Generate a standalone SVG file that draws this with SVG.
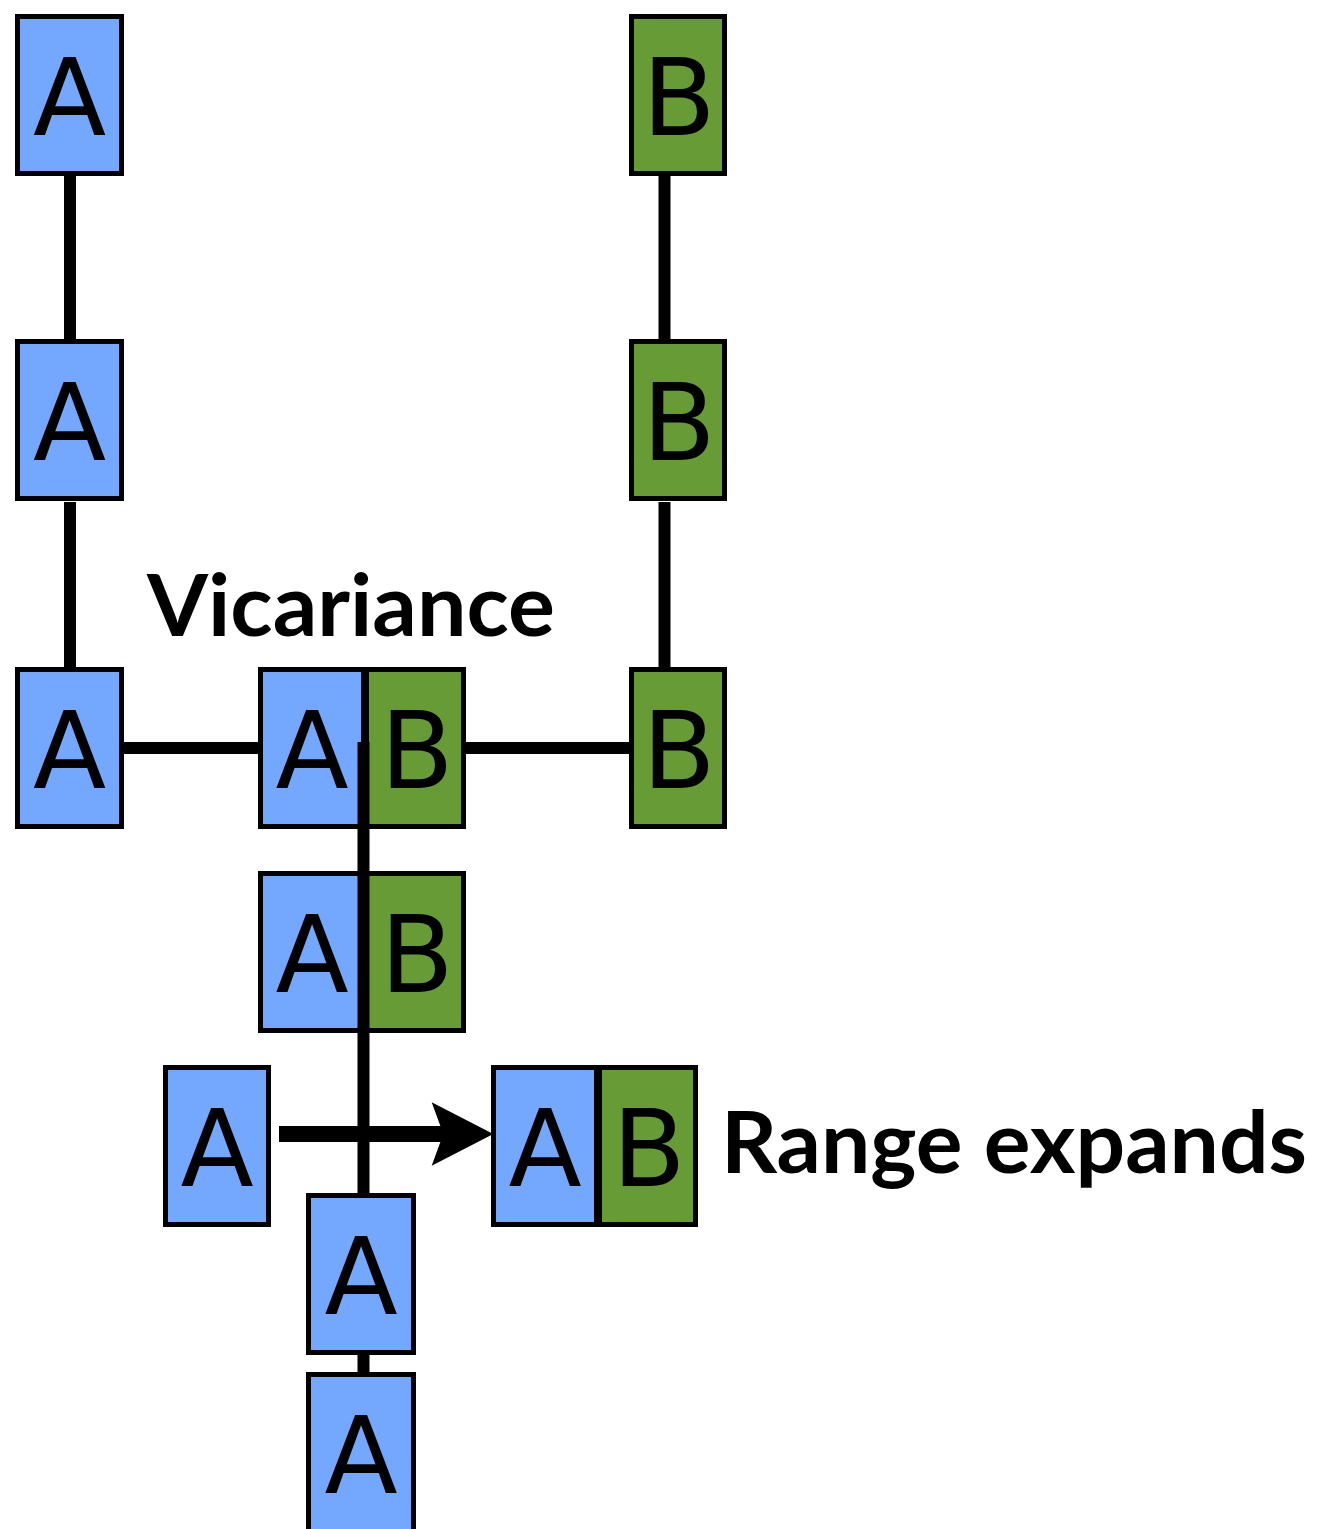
<svg xmlns="http://www.w3.org/2000/svg" width="1320" height="1529" viewBox="0 0 1320 1529">
<style>
.a{fill:#74a8fe;stroke:#000;stroke-width:5}
.b{fill:#669b36;stroke:#000;stroke-width:5}
.t{font-family:"DejaVu Sans",sans-serif;font-size:107px;text-anchor:middle;fill:#000}
.c{stroke:#000;stroke-width:12;fill:none}
.lbl{font-family:Lato,"Open Sans",sans-serif;font-weight:bold;font-size:86px;fill:#000}
</style>
<rect width="1320" height="1529" fill="#fff"/>
<g id="A1"><rect class="a" x="17.5" y="16.5" width="104" height="157"/><text class="t" x="69.5" y="135">A</text></g>
<g id="A2"><rect class="a" x="17.5" y="341.5" width="104" height="157"/><text class="t" x="69.5" y="460">A</text></g>
<g id="A3"><rect class="a" x="17.5" y="669.5" width="104" height="157"/><text class="t" x="69.5" y="788">A</text></g>
<g id="B1"><rect class="b" x="631.5" y="16.5" width="93" height="157"/><text class="t" x="679" y="135">B</text></g>
<g id="B2"><rect class="b" x="631.5" y="341.5" width="93" height="157"/><text class="t" x="679" y="460">B</text></g>
<g id="B3"><rect class="b" x="631.5" y="669.5" width="93" height="157"/><text class="t" x="679" y="788">B</text></g>
<g id="AB1"><rect class="a" x="260.5" y="669.5" width="103" height="157"/><rect class="b" x="366.5" y="669.5" width="97" height="157"/><text class="t" x="312" y="788">A</text><text class="t" x="417" y="788">B</text></g>
<g id="AB2"><rect class="a" x="260.5" y="873.5" width="103" height="157"/><rect class="b" x="366.5" y="873.5" width="97" height="157"/><text class="t" x="312" y="992">A</text><text class="t" x="417" y="992">B</text></g>
<g id="A5"><rect class="a" x="165.5" y="1067.5" width="103" height="157"/><text class="t" x="217" y="1186">A</text></g>
<g id="AB3"><rect class="a" x="493.5" y="1067.5" width="103" height="157"/><rect class="b" x="599.5" y="1067.5" width="96" height="157"/><text class="t" x="545" y="1186">A</text><text class="t" x="649" y="1186">B</text></g>
<g id="A6"><rect class="a" x="308.5" y="1195.5" width="105" height="157"/><text class="t" x="361" y="1314">A</text></g>
<g id="A7"><rect class="a" x="308.5" y="1374.5" width="105" height="157"/><text class="t" x="361" y="1493">A</text></g>
<g id="connectors">
<line class="c" x1="70" y1="176" x2="70" y2="339"/>
<line class="c" x1="70" y1="502" x2="70" y2="667"/>
<line class="c" x1="664.5" y1="176" x2="664.5" y2="339"/>
<line class="c" x1="664.5" y1="502" x2="664.5" y2="667"/>
<line class="c" x1="124" y1="748" x2="258" y2="748"/>
<line class="c" x1="466" y1="748" x2="629" y2="748"/>
<line class="c" x1="363.5" y1="742" x2="363.5" y2="1193"/>
<line class="c" x1="363.5" y1="1355" x2="363.5" y2="1372"/>
<g id="arrow">
<line x1="279" y1="1134" x2="445" y2="1134" stroke="#000" stroke-width="16"/>
<polygon points="431.7,1102.3 493.3,1134 431.7,1165.7 443.3,1134" fill="#000"/>
</g>
</g>
<text class="lbl" x="147" y="636" textLength="408" lengthAdjust="spacingAndGlyphs">Vicariance</text>
<text class="lbl" x="721" y="1173" textLength="586" lengthAdjust="spacingAndGlyphs">Range expands</text>
</svg>
